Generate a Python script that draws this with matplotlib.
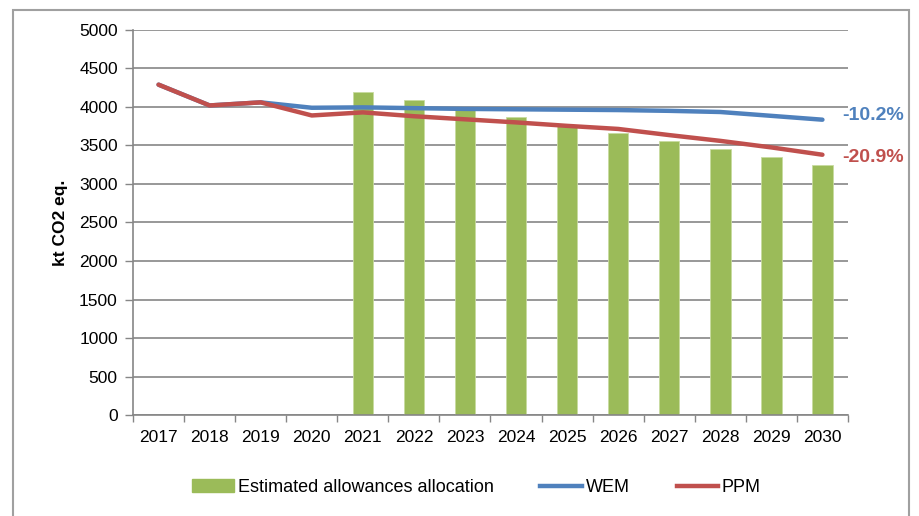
import matplotlib
matplotlib.use("Agg")
import matplotlib.pyplot as plt
from matplotlib.patches import Rectangle, Patch
from matplotlib.lines import Line2D
import numpy as np

years = ["2017", "2018", "2019", "2020", "2021", "2022", "2023", "2024",
         "2025", "2026", "2027", "2028", "2029", "2030"]
allow_years = ["2021", "2022", "2023", "2024", "2025", "2026", "2027",
               "2028", "2029", "2030"]
allowances = [4190, 4085, 3980, 3875, 3770, 3665, 3560, 3455, 3350, 3245]
wem = [4290, 4020, 4060, 3990, 3995, 3985, 3975, 3970, 3965, 3960, 3950,
       3935, 3885, 3835]
ppm = [4290, 4020, 4060, 3890, 3930, 3880, 3840, 3800, 3755, 3715, 3635,
       3560, 3475, 3380]
yticks = [0, 500, 1000, 1500, 2000, 2500, 3000, 3500, 4000, 4500, 5000]
labels_end = ["-10.2%", "-20.9%"]

GREEN = "#9bbb59"
BLUE = "#4f81bd"
RED = "#c0504d"
GRID = "#868686"

plt.rcParams['font.family'] = ['Liberation Sans', 'DejaVu Sans']

fig = plt.figure(figsize=(9.2, 5.16), dpi=100)
ax = fig.add_axes([0.1446, 0.1957, 0.7771, 0.7462])

x = np.arange(len(years))
ax_idx = [years.index(y) for y in allow_years]
ax.bar(ax_idx, allowances, width=0.4, color=GREEN, zorder=2,
       edgecolor="#c8dba0", linewidth=0.6)
ax.plot(x, wem, color=BLUE, lw=3.2, zorder=3, solid_capstyle="round")
ax.plot(x, ppm, color=RED, lw=3.2, zorder=4, solid_capstyle="round")

ax.set_xlim(-0.5, len(years) - 0.5)
ax.set_ylim(0, 5000)
ax.set_yticks(yticks)
ax.set_yticklabels([str(v) for v in yticks], fontsize=12.5)
ax.set_xticks(x)
ax.set_xticklabels(years, fontsize=12.5)
ax.set_xticks(np.arange(len(years) + 1) - 0.5, minor=True)
ax.tick_params(axis="x", which="major", length=0, pad=11)
ax.tick_params(axis="x", which="minor", length=5, color=GRID, width=1)
ax.tick_params(axis="y", length=6, color=GRID, width=1, pad=5)
ax.yaxis.grid(True, color=GRID, lw=1.2, zorder=0)
ax.set_axisbelow(True)
for s in ["top", "right"]:
    ax.spines[s].set_visible(False)
for s in ["left", "bottom"]:
    ax.spines[s].set_color(GRID)
    ax.spines[s].set_linewidth(1.2)

ax.set_ylabel("kt CO2 eq.", fontsize=12.5, fontweight="bold", labelpad=8)

ax.annotate(labels_end[0], xy=(len(years) - 1, wem[-1]), xytext=(14, 3),
            textcoords="offset points", color=BLUE, fontsize=14,
            fontweight="bold", va="center", ha="left", annotation_clip=False)
ax.annotate(labels_end[1], xy=(len(years) - 1, ppm[-1]), xytext=(14, -2),
            textcoords="offset points", color=RED, fontsize=14,
            fontweight="bold", va="center", ha="left", annotation_clip=False)

handles = [Patch(facecolor=GREEN, edgecolor=GREEN),
           Line2D([0], [0], color=BLUE, lw=3.2),
           Line2D([0], [0], color=RED, lw=3.2)]
fig.legend(handles, ["Estimated allowances allocation", "WEM", "PPM"],
           loc="center", bbox_to_anchor=(0.518, 0.055), ncol=3, frameon=False,
           fontsize=13, handlelength=2.3, handletextpad=0.2,
           columnspacing=2.6)

fig.patches.append(Rectangle((13 / 920, -0.05), (909 - 13) / 920,
                             1 - 10 / 516 + 0.05, transform=fig.transFigure,
                             fill=False, edgecolor="#a0a0a0", lw=1.5))

fig.savefig("out.png", dpi=100)
